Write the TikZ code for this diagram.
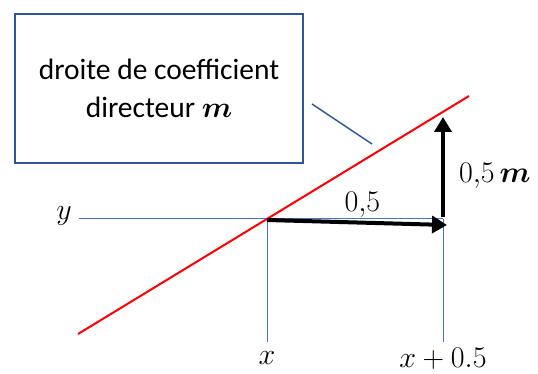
\RequirePackage{fix-cm}
\documentclass[tikz,border=0pt]{standalone}
\usepackage{amsmath}
\usepackage{fontspec}
\setmainfont{Carlito}
\usetikzlibrary{arrows.meta,calc}
\definecolor{guideblue}{HTML}{4472C4}
\definecolor{boxblue}{HTML}{2F5597}

\begin{document}
\begin{tikzpicture}[x=1pt, y=-1pt, >={Triangle[length=15pt, width=17pt]},
  guide/.style={guideblue, line width=1pt},
  vec/.style={->, line width=4pt},
  lab/.style={font=\fontsize{30}{34}\selectfont, inner sep=0pt}]
  \useasboundingbox (0,0) rectangle (538,374);
  \node[draw=boxblue, line width=1.5pt, minimum width=288pt, minimum height=149pt,
    align=center, font=\fontsize{29.5}{38}\selectfont] (box) at (159,88.5)
    {droite de coefficient\\directeur $\boldsymbol{m}$};
  \coordinate (P) at (267,220);
  \coordinate (Q) at (447,225);
  \coordinate (T) at (443,117);
  \coordinate (B) at (443,217);
  \coordinate (L1) at (78,334);
  \coordinate (L2) at (469,96);
  \coordinate (Y0) at (79,219);
  \coordinate (X0) at (267,342);
  \coordinate (X1) at (443,342);
  \coordinate (C1) at (312,104);
  \coordinate (C2) at (372,144);
  \draw[guide] (Y0) -- (X1 |- Y0);
  \draw[guide] (X0 |- Y0) -- (X0);
  \draw[guide] (X1 |- Y0) -- (X1);
  \draw[red, line width=2pt] (L1) -- (L2);
  \draw[boxblue, line width=1.5pt] (C1) -- (C2);
  \draw[vec] (P) -- (Q) node[lab, pos=0.53, above=3pt] {$0{,}5$};
  \draw[vec] (B) -- (T) node[lab, midway, right=14pt, yshift=-9pt] {$0{,}5\,\boldsymbol{m}$};
  \node[lab, left=7pt, yshift=3pt] (ylab) at (Y0) {$y$};
  \node[lab, below=9pt] (xlab) at (X0) {$x$};
  \node[lab, below=6pt] (xplab) at (X1) {$x+0.5$};
\end{tikzpicture}
\end{document}
